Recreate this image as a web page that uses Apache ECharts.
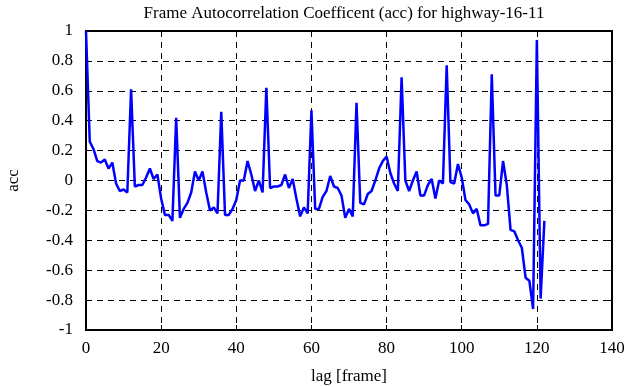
<!DOCTYPE html>
<html><head><meta charset="utf-8">
<script src="https://cdn.jsdelivr.net/npm/echarts@6/dist/echarts.min.js"></script>
<style>html,body{margin:0;padding:0;background:#fff}#c{width:641px;height:387px}</style>
</head><body><div id="c"></div>
<script>
var titleText = 'Frame Autocorrelation Coefficent (acc) for highway-16-11';
var xName = 'lag [frame]';
var yName = 'acc';
var acc = [1.0,0.26,0.21,0.13,0.12,0.14,0.08,0.12,-0.02,-0.07,
-0.06,-0.08,0.61,-0.04,-0.03,-0.03,0.02,0.08,0.01,0.04,
-0.12,-0.23,-0.23,-0.27,0.42,-0.25,-0.19,-0.15,-0.08,0.06,
0.0,0.06,-0.08,-0.2,-0.18,-0.22,0.46,-0.23,-0.23,-0.19,
-0.13,0.0,0.0,0.13,0.04,-0.07,0.0,-0.08,0.62,-0.05,
-0.04,-0.04,-0.03,0.04,-0.05,0.01,-0.12,-0.24,-0.18,-0.22,
0.47,-0.19,-0.19,-0.11,-0.07,0.03,-0.04,-0.05,-0.1,-0.25,
-0.19,-0.24,0.52,-0.15,-0.16,-0.09,-0.07,0.0,0.08,0.13,
0.16,0.05,-0.02,-0.07,0.69,0.0,-0.07,0.0,0.06,-0.1,
-0.1,-0.03,0.01,-0.12,0.0,-0.02,0.77,-0.01,-0.02,0.11,
0.02,-0.13,-0.16,-0.22,-0.19,-0.3,-0.3,-0.29,0.71,-0.1,
-0.1,0.13,-0.03,-0.33,-0.34,-0.4,-0.45,-0.65,-0.67,-0.86,
0.94,-0.79,-0.27];
var data = acc.map(function(v,i){return [i,v];});
var font = 'Liberation Serif';
var gridLine = {show:true,lineStyle:{color:'#000',type:[6,5],width:1}};
var chart = echarts.init(document.getElementById('c'),null,{renderer:'canvas'});
chart.setOption({
  animation:false,
  backgroundColor:'#fff',
  title:{text:titleText,left:339,textAlign:'center',top:0,textStyle:{fontFamily:font,fontWeight:'normal',fontSize:17,color:'#000'}},
  grid:{left:86,right:29,top:31,bottom:57,show:true,borderColor:'#000',borderWidth:2,backgroundColor:'transparent',outerBoundsMode:'none',containLabel:false},
  xAxis:[{type:'value',min:0,max:140,interval:20,position:'bottom',
    name:xName,nameLocation:'middle',nameGap:38,nameTextStyle:{fontFamily:font,fontSize:17,color:'#000'},
    axisLine:{show:true,onZero:false,lineStyle:{color:'#000',width:2}},
    axisTick:{show:true,inside:true,length:5,lineStyle:{color:'#000',width:1}},
    axisLabel:{fontFamily:font,fontSize:17,color:'#000',margin:10},
    splitLine:gridLine},
   {type:'value',min:0,max:140,interval:20,position:'top',
    axisLine:{show:true,onZero:false,lineStyle:{color:'#000',width:2}},
    axisTick:{show:true,inside:true,length:5,lineStyle:{color:'#000',width:1}},
    axisLabel:{show:false},splitLine:{show:false}}],
  yAxis:[{type:'value',min:-1,max:1,interval:0.2,position:'left',
    name:yName,nameLocation:'middle',nameGap:64,nameRotate:90,nameTextStyle:{fontFamily:font,fontSize:17,color:'#000'},
    axisLine:{show:true,onZero:false,lineStyle:{color:'#000',width:2}},
    axisTick:{show:true,inside:true,length:5,lineStyle:{color:'#000',width:1}},
    axisLabel:{fontFamily:font,fontSize:17,color:'#000',margin:13},
    splitLine:gridLine},
   {type:'value',min:-1,max:1,interval:0.2,position:'right',
    axisLine:{show:true,onZero:false,lineStyle:{color:'#000',width:2}},
    axisTick:{show:true,inside:true,length:5,lineStyle:{color:'#000',width:1}},
    axisLabel:{show:false},splitLine:{show:false}}],
  series:[{type:'line',data:data,xAxisIndex:0,yAxisIndex:0,showSymbol:false,symbol:'none',
    lineStyle:{color:'#0000ff',width:2.5},itemStyle:{color:'#0000ff'},z:3}]
});
</script></body></html>
